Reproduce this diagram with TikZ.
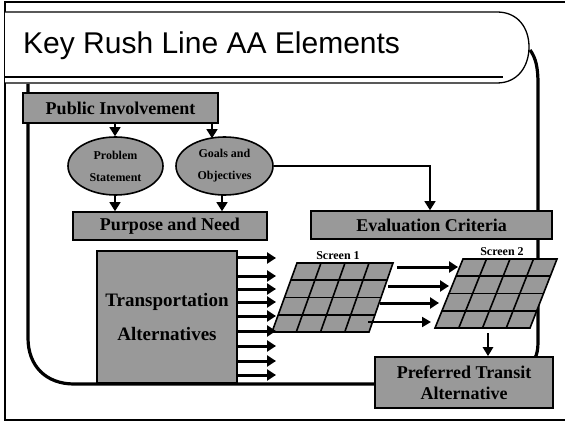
\documentclass[tikz,border=0pt]{standalone}
\usepackage{fontspec}
\setmainfont{Liberation Serif}
\newfontfamily\titlefont{Liberation Sans}
\usetikzlibrary{arrows.meta,calc,shapes.geometric}
\definecolor{boxgray}{RGB}{153,153,153}
\begin{document}
\begin{tikzpicture}[x=1pt,y=-1pt,
  box/.style={draw, line width=1.6pt, fill=boxgray, inner sep=0pt, align=center,
    font=\bfseries\fontsize{18}{21}\selectfont},
  oval/.style={draw, ellipse, line width=1.6pt, fill=boxgray, inner sep=0pt, align=center,
    font=\bfseries\fontsize{12}{22}\selectfont},
  thinarr/.style={line width=1.4pt, -{Triangle[length=9pt,width=11pt]}},
  fatarr/.style={line width=3pt, -{Triangle[length=9pt,width=11pt]}},
  loopline/.style={line width=3.2pt},
  gridfill/.style={draw, line width=1.6pt, fill=boxgray, line join=miter},
  gridline/.style={line width=1.6pt},
  screenlbl/.style={font=\bfseries\fontsize{12}{13}\selectfont}]
\useasboundingbox (0,0) rectangle (565,422);
% outer frame
\draw[line width=1.5pt] (570,2) -- (5,2) -- (5,420) -- (570,420);
% title box
\draw[line width=1.3pt, fill=white] (5,12) -- (497,12) .. controls (518,12) and (529,28) .. (529,47)
  .. controls (529,66) and (518,83) .. (497,83) -- (5,83);
\draw[line width=1.3pt] (5,77) -- (503,77);
\node[anchor=base west, font=\titlefont\fontsize{30}{32}\selectfont, inner sep=0pt] (title) at (23,54) {Key Rush Line AA Elements};
% feedback loop
\coordinate (loopstart) at (530,50);
\coordinate (loopend) at (375,384);
\draw[loopline] (28,84) -- (28,338) .. controls (28,366) and (46,384) .. (74,384) -- (loopend);
\draw[loopline] (loopstart) .. controls (536,58) and (538,68) .. (538,84) -- (538,340)
  .. controls (538,350) and (537,354) .. (535,358);
% boxes
\node[box, minimum width=195pt, minimum height=30pt] (pi) at (120.5,108) {Public Involvement};
\node[oval, minimum width=95pt, minimum height=58pt] (ps) at (115.5,166) {Problem\\Statement};
\node[oval, minimum width=97pt, minimum height=58pt] (go) at (224.5,166) {Goals and\\Objectives};
\node[box, minimum width=194pt, minimum height=28pt] (pn) at (170,226) {Purpose and Need};
\node[box, minimum width=241pt, minimum height=28pt] (ec) at (431.5,225) {Evaluation Criteria};
\node[box, minimum width=140pt, minimum height=132pt, font=\bfseries\fontsize{19}{34}\selectfont] (ta) at (167,317) {Transportation\\Alternatives};
\node[box, minimum width=178pt, minimum height=51pt] (pt) at (464,382.5) {Preferred Transit\\Alternative};
% arrows top part
\draw[thinarr] (pi.south -| 115,0) -- (ps.north -| 115,0);
\draw[thinarr] (pi.south -| 212,0) -- ($(go.north -| 212,0)+(0,2)$);
\draw[thinarr] ($(ps.south -| 115,0)+(0,-1)$) -- (pn.north -| 115,0);
\draw[thinarr] ($(go.south -| 222,0)+(0,-1)$) -- (pn.north -| 222,0);
\draw[thinarr] (go.east) -- (go.east -| 430,0) -- (ec.north -| 430,0);
% screen 1 grid
\coordinate (s1tl) at (297,263); \coordinate (s1tr) at (393,263);
\coordinate (s1br) at (369,332); \coordinate (s1bl) at (272,332);
\filldraw[gridfill] (s1tl) -- (s1tr) -- (s1br) -- (s1bl) -- cycle;
\foreach \i in {1,2,3} {
  \draw[gridline] ($(s1tl)!\i/4!(s1bl)$) -- ($(s1tr)!\i/4!(s1br)$);
  \draw[gridline] ($(s1tl)!\i/4!(s1tr)$) -- ($(s1bl)!\i/4!(s1br)$);
}
\node[screenlbl] (sl1) at (338,256) {Screen 1};
% screen 2 grid
\coordinate (s2tl) at (463,259); \coordinate (s2tr) at (557,259);
\coordinate (s2br) at (530,328); \coordinate (s2bl) at (435,328);
\filldraw[gridfill] (s2tl) -- (s2tr) -- (s2br) -- (s2bl) -- cycle;
\foreach \i in {1,2,3} {
  \draw[gridline] ($(s2tl)!\i/4!(s2bl)$) -- ($(s2tr)!\i/4!(s2br)$);
  \draw[gridline] ($(s2tl)!\i/4!(s2tr)$) -- ($(s2bl)!\i/4!(s2br)$);
}
\node[screenlbl] (sl2) at (502,252) {Screen 2};
% alternatives arrows
\foreach \yy in {258,276,289,302,316,331,346,361,375} {
  \draw[fatarr] (ta.east |- 0,\yy) -- (276,\yy);
}
% screen 1 to screen 2 arrows
\draw[fatarr] (397,267) -- (458,267);
\draw[fatarr] (388,286) -- (449,286);
\draw[fatarr] (380,303) -- (439,303);
\draw[line width=2pt, -{Triangle[length=9pt,width=10pt]}] (368,322) -- (431,322);
% screen 2 to preferred
\draw[line width=2.4pt, -{Triangle[length=9pt,width=10pt]}] (488,333) -- (pt.north -| 488,0);
\end{tikzpicture}
\end{document}
